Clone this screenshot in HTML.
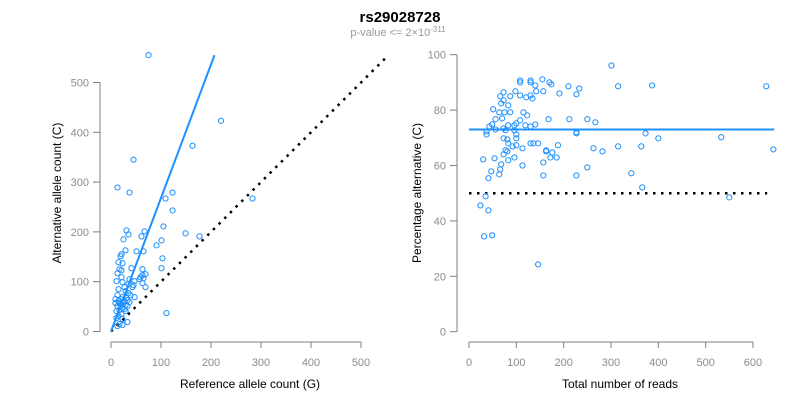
<!DOCTYPE html>
<html><head><meta charset="utf-8"><style>
html,body{margin:0;padding:0;background:#fff;}
svg{display:block;font-family:"Liberation Sans",sans-serif;}
.tick{fill:#8c8c8c;font-size:11px;}
.ax{stroke:#7f7f7f;stroke-width:1;fill:none;}
.ttl{fill:#000;font-size:12px;}
</style></head><body>
<svg id="chart" width="800" height="400">
<text x="400" y="22" text-anchor="middle" font-weight="bold" font-size="15">rs29028728</text>
<text x="398" y="36" text-anchor="middle" font-size="11" fill="#999">p-value &lt;= 2×10<tspan dy="-4" font-size="8">-311</tspan></text>
<g id="left"></g>
<g id="right"></g>
</svg>
<script>
// Left panel data: reference count (G), alternative count (C)
const refCounts = [75,220,163,45,13,37,123,109,283,123,105,31,67,35,149,177,61,25,101,91,29,51,65,21,19,103,15,23,41,101,63,17,21,13,69,63,59,21,65,57,37,11,47,23,63,35,45,69,43,27,15,29,35,39,13,47,23,31,19,9,27,15,37,9,21,29,13,33,23,17,29,11,111,21,15,11,23,33,17,23,13,17,25,33,19,27];
const altCounts = [555,423,373,345,289,279,279,267,267,243,211,203,201,195,197,191,191,185,183,173,163,161,161,155,151,147,139,137,127,127,125,125,123,117,115,113,109,109,107,105,105,101,101,99,97,95,93,89,89,89,85,81,77,73,73,69,69,67,65,65,61,61,59,57,55,53,51,51,47,43,41,41,37,35,31,27,25,19,15,13,11,57,57,63,51,45];
const leftTicks = [0,100,200,300,400,500];
const leftFit = [0,207,555]; // x0, x1, y1 of the regression line
const leftDiag = [0,550];
// Right panel data
const totalReads = [301,315,387,628,155,108,130,170,108,130,174,140,210,233,98,157,142,73,191,227,108,130,66,87,121,134,73,68,83,51,64,75,87,115,123,70,56,168,212,250,108,267,100,140,49,119,83,96,43,130,73,56,77,96,37,227,227,37,100,373,533,400,73,81,100,146,130,83,136,188,100,315,364,92,643,263,113,77,163,81,282,163,176,73,172,185,96,54,30,83,157,68,113,250,66,47,64,343,157,227,41,366,35,550,24,41,32,49,146];
const pctAlt = [96.1,88.6,88.9,88.6,91.1,90.7,90.7,90,90,90,89.3,88.9,88.6,87.8,86.8,86.8,86.8,86.4,86,85.7,85.3,85.3,85,85,84.6,84.2,83.5,82.4,81.7,80.3,79.2,79.2,79.2,79.2,78.1,77,76.7,76.7,76.7,76.7,76.3,75.6,75.2,74.8,74.8,74.5,74.5,74.5,74.1,74.1,73.4,73,72.7,72.7,72.3,72,71.6,71.2,71.2,71.6,70.2,69.8,69.8,69.4,69.8,68,68,68,68,67.3,67.3,66.9,66.9,66.9,65.8,66.2,66.2,65.5,65.5,65.1,65.1,65.1,64.7,64,62.9,62.9,62.9,62.6,62.2,61.9,61.1,60.4,60,59.3,58.6,57.9,56.8,57.2,56.4,56.4,55.4,52.1,48.9,48.5,45.6,43.8,34.4,34.8,24.3];
const rightXTicks = [0,100,200,300,400,500,600];
const rightYTicks = [0,20,40,60,80,100];
const rightFit = [73,0,645];
const rightNull = [50,0,630];

const NS="http://www.w3.org/2000/svg";
function mk(parent,tag,attrs){const e=document.createElementNS(NS,tag);for(const k in attrs)e.setAttribute(k,attrs[k]);parent.appendChild(e);return e;}

// Left scales
const lx=v=>111+v*0.5, ly=v=>331.5-v*0.498;
const L=document.getElementById('left');
let a=mk(L,'line',{x1:100,x2:100,y1:ly(0),y2:ly(500),class:'ax'});


a=mk(L,'line',{x1:lx(0),x2:lx(500),y1:342,y2:342,class:'ax'});


leftTicks.forEach(t=>{
  mk(L,'line',{x1:93,x2:100,y1:ly(t),y2:ly(t),class:'ax'});
  let tx=mk(L,'text',{x:89,y:ly(t)+4,'text-anchor':'end',class:'tick'});tx.textContent=t;
  
  
  mk(L,'line',{x1:lx(t),x2:lx(t),y1:342,y2:348,class:'ax'});
  tx=mk(L,'text',{x:lx(t),y:366,'text-anchor':'middle',class:'tick'});tx.textContent=t;
  
  
});
let t=mk(L,'text',{x:250,y:388,'text-anchor':'middle',class:'ttl'});t.textContent='Reference allele count (G)';


t=mk(L,'text',{x:61,y:193,'text-anchor':'middle',class:'ttl',transform:'rotate(-90 61 193)'});t.textContent='Alternative allele count (C)';


let ln=mk(L,'line',{x1:lx(leftDiag[0]),y1:ly(leftDiag[0]),x2:lx(leftDiag[1]),y2:ly(leftDiag[1]),stroke:'#000','stroke-width':2.5,'stroke-dasharray':'2.5 5.5'});


refCounts.forEach((g,i)=>{
  const c=mk(L,'circle',{cx:lx(g),cy:ly(altCounts[i]),r:2.6,fill:'none',stroke:'#1E90FF','stroke-width':1});
  
  
});
ln=mk(L,'line',{x1:lx(leftFit[0]),y1:ly(0),x2:lx(leftFit[1]),y2:ly(leftFit[2]),stroke:'#1E90FF','stroke-width':2});



// Right scales
const rx=v=>469+v*0.4733, ry=v=>331.7-v*2.77;
const R=document.getElementById('right');
a=mk(R,'line',{x1:457,x2:457,y1:ry(0),y2:ry(100),class:'ax'});


a=mk(R,'line',{x1:rx(0),x2:rx(600),y1:342,y2:342,class:'ax'});


rightYTicks.forEach(v=>{
  mk(R,'line',{x1:450,x2:457,y1:ry(v),y2:ry(v),class:'ax'});
  const tx=mk(R,'text',{x:446,y:ry(v)+4,'text-anchor':'end',class:'tick'});tx.textContent=v;
  
  
});
rightXTicks.forEach(v=>{
  mk(R,'line',{x1:rx(v),x2:rx(v),y1:342,y2:348,class:'ax'});
  const tx=mk(R,'text',{x:rx(v),y:366,'text-anchor':'middle',class:'tick'});tx.textContent=v;
  
  
});
t=mk(R,'text',{x:620,y:388,'text-anchor':'middle',class:'ttl'});t.textContent='Total number of reads';


t=mk(R,'text',{x:421,y:193,'text-anchor':'middle',class:'ttl',transform:'rotate(-90 421 193)'});t.textContent='Percentage alternative (C)';


ln=mk(R,'line',{x1:rx(rightNull[1]),y1:ry(rightNull[0]),x2:rx(rightNull[2]),y2:ry(rightNull[0]),stroke:'#000','stroke-width':2.5,'stroke-dasharray':'2.5 5.5'});


totalReads.forEach((n,i)=>{
  const c=mk(R,'circle',{cx:rx(n),cy:ry(pctAlt[i]),r:2.6,fill:'none',stroke:'#1E90FF','stroke-width':1});
  
  
});
ln=mk(R,'line',{x1:rx(rightFit[1]),y1:ry(rightFit[0]),x2:rx(rightFit[2]),y2:ry(rightFit[0]),stroke:'#1E90FF','stroke-width':2});


</script>
</body></html>
